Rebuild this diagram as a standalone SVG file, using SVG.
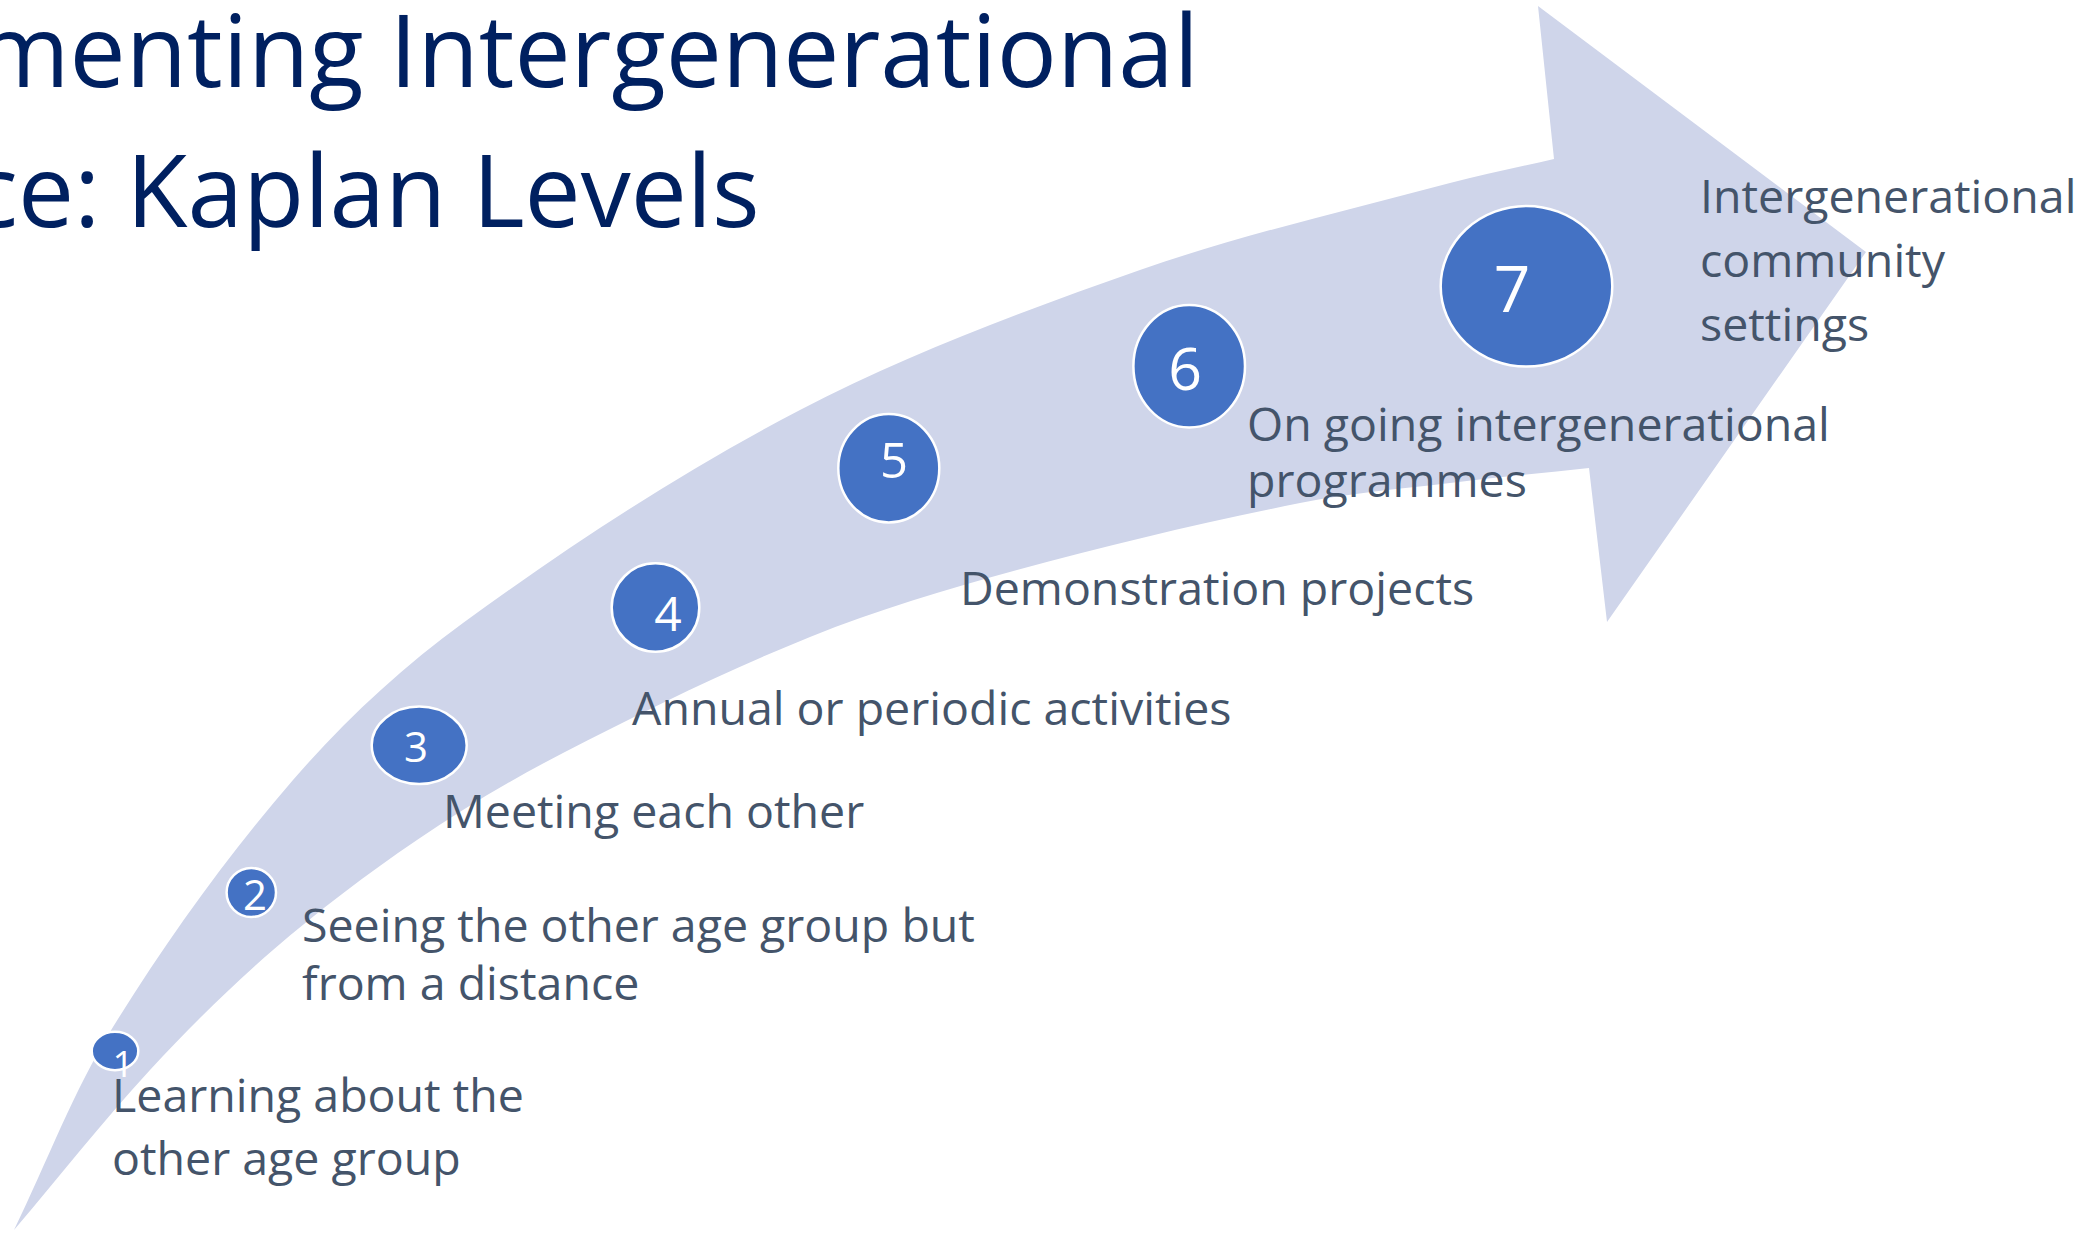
<svg xmlns="http://www.w3.org/2000/svg" width="2098" height="1235" viewBox="0 0 2098 1235">
<style>
.title{font-family:"Open Sans","Noto Sans","Liberation Sans",sans-serif;font-size:100px;fill:#002060}
.lbl{font-family:"Open Sans","Noto Sans","Liberation Sans",sans-serif;font-size:46.5px;fill:#44546A}
.dot{fill:#4472C4;stroke:#FFFFFF;stroke-width:2.5}
.num{font-family:"Open Sans","Noto Sans","Liberation Sans",sans-serif;fill:#FFFFFF;text-anchor:middle}
</style>
<rect width="2098" height="1235" fill="#FFFFFF"/>
<g id="title">
<text class="title" x="-23" y="87">menting Intergenerational</text>
<text class="title" x="-30" y="227">ce: Kaplan Levels</text>
</g>
<g id="arrow">
<path fill="#CFD5EA" d="M14,1230 C47,1162.3 73.3,1091 113,1027 C166.7,940.4 226.3,857 293,780 C343.5,721.7 400.7,668.4 463,623 C570.4,544.7 682.1,471.4 800,410 C908.7,353.4 1024.3,310.5 1140,270 C1241.3,234.6 1346.3,210.8 1450,183 C1484.4,173.8 1519.3,167 1554,159 L1538,6 L1866,252 L1607,622 L1589,468 C1542.7,473 1496.3,477.4 1450,483 C1400,489 1349.4,493.1 1300,503 C1205,522.1 1110.5,544.4 1017,570 C947,589.1 877.2,609.9 810,637 C725.6,671 643.9,711.2 563,753 C512.6,779 463.9,808.1 417,840 C367,873.9 318.8,910.6 273,950 C229.6,987.4 188.9,1028 150,1070 C102.5,1121.4 59.4,1176.7 14,1230 Z"/>
</g>
<g id="connectors"></g>
<g id="level-1">
<ellipse class="dot" cx="115" cy="1051" rx="23.3" ry="19.2"/>
<text class="num" x="123" y="1077" font-size="37">1</text>
<text class="lbl" x="112" y="1112">Learning about the</text>
<text class="lbl" x="112" y="1175">other age group</text>
</g>
<g id="level-2">
<ellipse class="dot" cx="251.3" cy="892.5" rx="24.7" ry="24.5"/>
<text class="num" x="255" y="910" font-size="42">2</text>
<text class="lbl" x="302" y="942">Seeing the other age group but</text>
<text class="lbl" x="302" y="1000">from a distance</text>
</g>
<g id="level-3">
<ellipse class="dot" cx="419.2" cy="745.3" rx="47.5" ry="38.7"/>
<text class="num" x="416" y="762" font-size="42">3</text>
<text class="lbl" x="443" y="828">Meeting each other</text>
</g>
<g id="level-4">
<ellipse class="dot" cx="655.5" cy="607.5" rx="43.8" ry="44.2"/>
<text class="num" x="668" y="631" font-size="48">4</text>
<text class="lbl" x="632" y="725">Annual or periodic activities</text>
</g>
<g id="level-5">
<ellipse class="dot" cx="888.8" cy="468.2" rx="50.5" ry="54.2"/>
<text class="num" x="894" y="478" font-size="49">5</text>
<text class="lbl" x="960" y="605">Demonstration projects</text>
</g>
<g id="level-6">
<ellipse class="dot" cx="1189.2" cy="366.2" rx="55.8" ry="61.2"/>
<text class="num" x="1185" y="390" font-size="59">6</text>
<text class="lbl" x="1247" y="441">On going intergenerational</text>
<text class="lbl" x="1247" y="497">programmes</text>
</g>
<g id="level-7">
<ellipse class="dot" cx="1526.5" cy="286.3" rx="85.8" ry="80.3"/>
<text class="num" x="1512" y="312" font-size="64">7</text>
<text class="lbl" x="1700" y="213">Intergenerational</text>
<text class="lbl" x="1700" y="277">community</text>
<text class="lbl" x="1700" y="341">settings</text>
</g>
</svg>
